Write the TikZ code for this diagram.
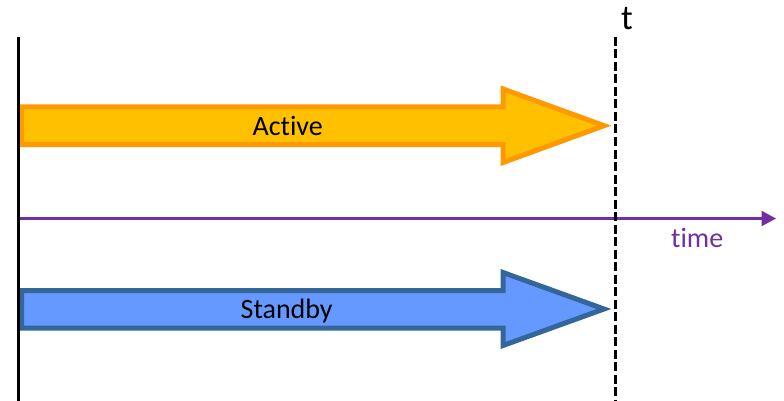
\documentclass[tikz,border=0pt]{standalone}
\usepackage{fontspec}
\setmainfont{Carlito}[Ligatures=NoCommon]
\usetikzlibrary{arrows.meta}
\definecolor{actfill}{HTML}{FFC000}
\definecolor{actline}{HTML}{FF9900}
\definecolor{stbfill}{HTML}{6699FF}
\definecolor{stbline}{HTML}{336699}
\definecolor{timecol}{HTML}{7030A0}
\tikzset{
  bigarrow/.style={line width=5pt, line join=miter},
  lbl/.style={inner sep=0pt, anchor=base, font=\fontsize{28}{34}\selectfont},
}
\begin{document}
\begin{tikzpicture}[x=1pt,y=-1pt]
\useasboundingbox (0,0) rectangle (784,401);
% Active arrow
\draw[bigarrow, draw=actline, fill=actfill]
  (21.5,107) -- (503,107) -- (503,89) -- (604,125.7) -- (503,162.5) -- (503,144.5) -- (21.5,144.5) -- cycle;
% Standby arrow
\draw[bigarrow, draw=stbline, fill=stbfill]
  (21.5,290.5) -- (503,290.5) -- (503,272.5) -- (604,309) -- (503,345.5) -- (503,328) -- (21.5,328) -- cycle;
% left axis
\coordinate (ltop) at (18.7,37);
\coordinate (lbot) at (18.7,401);
\draw[line width=3pt, black] (ltop) -- (lbot);
% time axis
\coordinate (tstart) at (20,218.5);
\coordinate (tend) at (776,218.5);
\draw[line width=2.5pt, timecol, -{Triangle[length=14.5pt,width=15pt]}] (tstart) -- (tend);
% dashed t line
\coordinate (dtop) at (615,37);
\coordinate (dbot) at (615,401);
\draw[line width=3pt, black, dash pattern=on 9pt off 3.5pt] (dtop) -- (dbot);
% labels
\node[lbl] (act) at (287.7,135.7) {Active};
\node[lbl] (stb) at (286.7,318.3) {Standby};
\node[lbl, text=timecol] (tim) at (697.2,247.7) {time};
\node[lbl, font=\fontsize{35}{42}\selectfont] (tt) at (627,29.3) {t};
\end{tikzpicture}
\end{document}
